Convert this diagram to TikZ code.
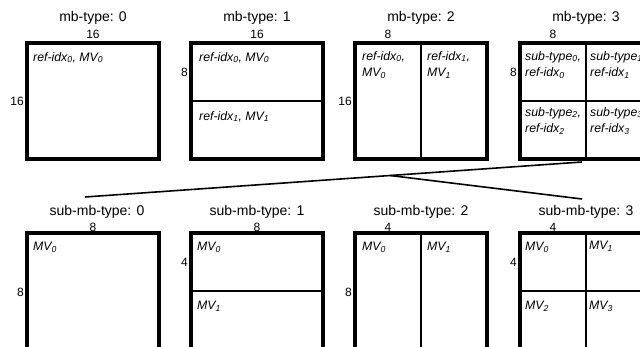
\documentclass[tikz,border=0pt]{standalone}
\usepackage{fontspec}
\setmainfont{Liberation Sans}
\usetikzlibrary{calc}
\begin{document}
\begin{tikzpicture}[x=1pt,y=-1pt,
  box/.style={draw, line width=3.2pt, minimum width=132pt, minimum height=116pt, anchor=north west, inner sep=0pt, outer sep=0pt},
  div/.style={line width=2.6pt},
  ttl/.style={font=\fontsize{14}{16}\selectfont, inner sep=0pt},
  num/.style={font=\fontsize{12}{13}\selectfont, inner sep=0pt},
  lbl/.style={font=\fontsize{12.3}{16.5}\selectfont\itshape, inner sep=0pt, anchor=north west, align=left},
  conn/.style={line width=1.6pt}]
\useasboundingbox (0,0) rectangle (640,347);
\clip (0,0) rectangle (640,347);
\fill[white] (0,0) rectangle (640,347);
% top row
\node[box] (b0) at (27,43) {};
\node[box] (b1) at (191,43) {};
\node[box] (b2) at (355,43) {};
\node[box] (b3) at (520,43) {};
\draw[div] (b1.west) -- (b1.east);
\draw[div] (b2.north) -- (b2.south);
\draw[div] (b3.north) -- (b3.south);
\draw[div] (b3.west) -- (b3.east);
\node[ttl] (t0) at (93,18) {mb-type: 0};
\node[ttl] (t1) at (257,18) {mb-type: 1};
\node[ttl] (t2) at (421,18) {mb-type: 2};
\node[ttl] (t3) at (586,18) {mb-type: 3};
\node[num] (w0) at (93,34) {16};
\node[num] (w1) at (257,34) {16};
\node[num] (w2) at (388,34) {8};
\node[num] (w3) at (553,34) {8};
\node[num,anchor=east] (h0) at (24,101) {16};
\node[num,anchor=east] (h1) at (188,72) {8};
\node[num,anchor=east] (h2) at (352,101) {16};
\node[num,anchor=east] (h3) at (517,72) {8};
\node[lbl] (l00) at (33,52) {ref-idx\textsubscript{0}, MV\textsubscript{0}};
\node[lbl] (l10) at (199,52) {ref-idx\textsubscript{0}, MV\textsubscript{0}};
\node[lbl] (l11) at (199,111) {ref-idx\textsubscript{1}, MV\textsubscript{1}};
\node[lbl] (l20) at (362,51) {ref-idx\textsubscript{0},\\MV\textsubscript{0}};
\node[lbl] (l21) at (427,51) {ref-idx\textsubscript{1},\\MV\textsubscript{1}};
\node[lbl] (l30) at (525,51) {sub-type\textsubscript{0},\\ref-idx\textsubscript{0}};
\node[lbl] (l31) at (590,51) {sub-type\textsubscript{1},\\ref-idx\textsubscript{1}};
\node[lbl] (l32) at (525,107) {sub-type\textsubscript{2},\\ref-idx\textsubscript{2}};
\node[lbl] (l33) at (590,107) {sub-type\textsubscript{3},\\ref-idx\textsubscript{3}};
% bottom row
\node[box] (s0) at (27,233) {};
\node[box] (s1) at (191,233) {};
\node[box] (s2) at (355,233) {};
\node[box] (s3) at (520,233) {};
\draw[div] (s1.west) -- (s1.east);
\draw[div] (s2.north) -- (s2.south);
\draw[div] (s3.north) -- (s3.south);
\draw[div] (s3.west) -- (s3.east);
\node[ttl] (u0) at (97,212) {sub-mb-type: 0};
\node[ttl] (u1) at (257,212) {sub-mb-type: 1};
\node[ttl] (u2) at (421,212) {sub-mb-type: 2};
\node[ttl] (u3) at (586,212) {sub-mb-type: 3};
\node[num] (v0) at (93,227) {8};
\node[num] (v1) at (257,227) {8};
\node[num] (v2) at (388,227) {4};
\node[num] (v3) at (553,227) {4};
\node[num,anchor=east] (k0) at (24,292) {8};
\node[num,anchor=east] (k1) at (188,262) {4};
\node[num,anchor=east] (k2) at (352,292) {8};
\node[num,anchor=east] (k3) at (517,262) {4};
\node[lbl] (m00) at (33,242) {MV\textsubscript{0}};
\node[lbl] (m10) at (197,242) {MV\textsubscript{0}};
\node[lbl] (m11) at (197,301) {MV\textsubscript{1}};
\node[lbl] (m20) at (362,242) {MV\textsubscript{0}};
\node[lbl] (m21) at (427,242) {MV\textsubscript{1}};
\node[lbl] (m30) at (525,242) {MV\textsubscript{0}};
\node[lbl] (m31) at (589,241) {MV\textsubscript{1}};
\node[lbl] (m32) at (525,301) {MV\textsubscript{2}};
\node[lbl] (m33) at (589,301) {MV\textsubscript{3}};
% connectors
\coordinate (p1) at (582,162);
\coordinate (p2) at (85,197);
\coordinate (p3) at ($(p1)!0.386!(p2)$);
\coordinate (p4) at (582,199);
\draw[conn] (p1) -- (p2);
\draw[conn] (p3) -- (p4);
\end{tikzpicture}
\end{document}
